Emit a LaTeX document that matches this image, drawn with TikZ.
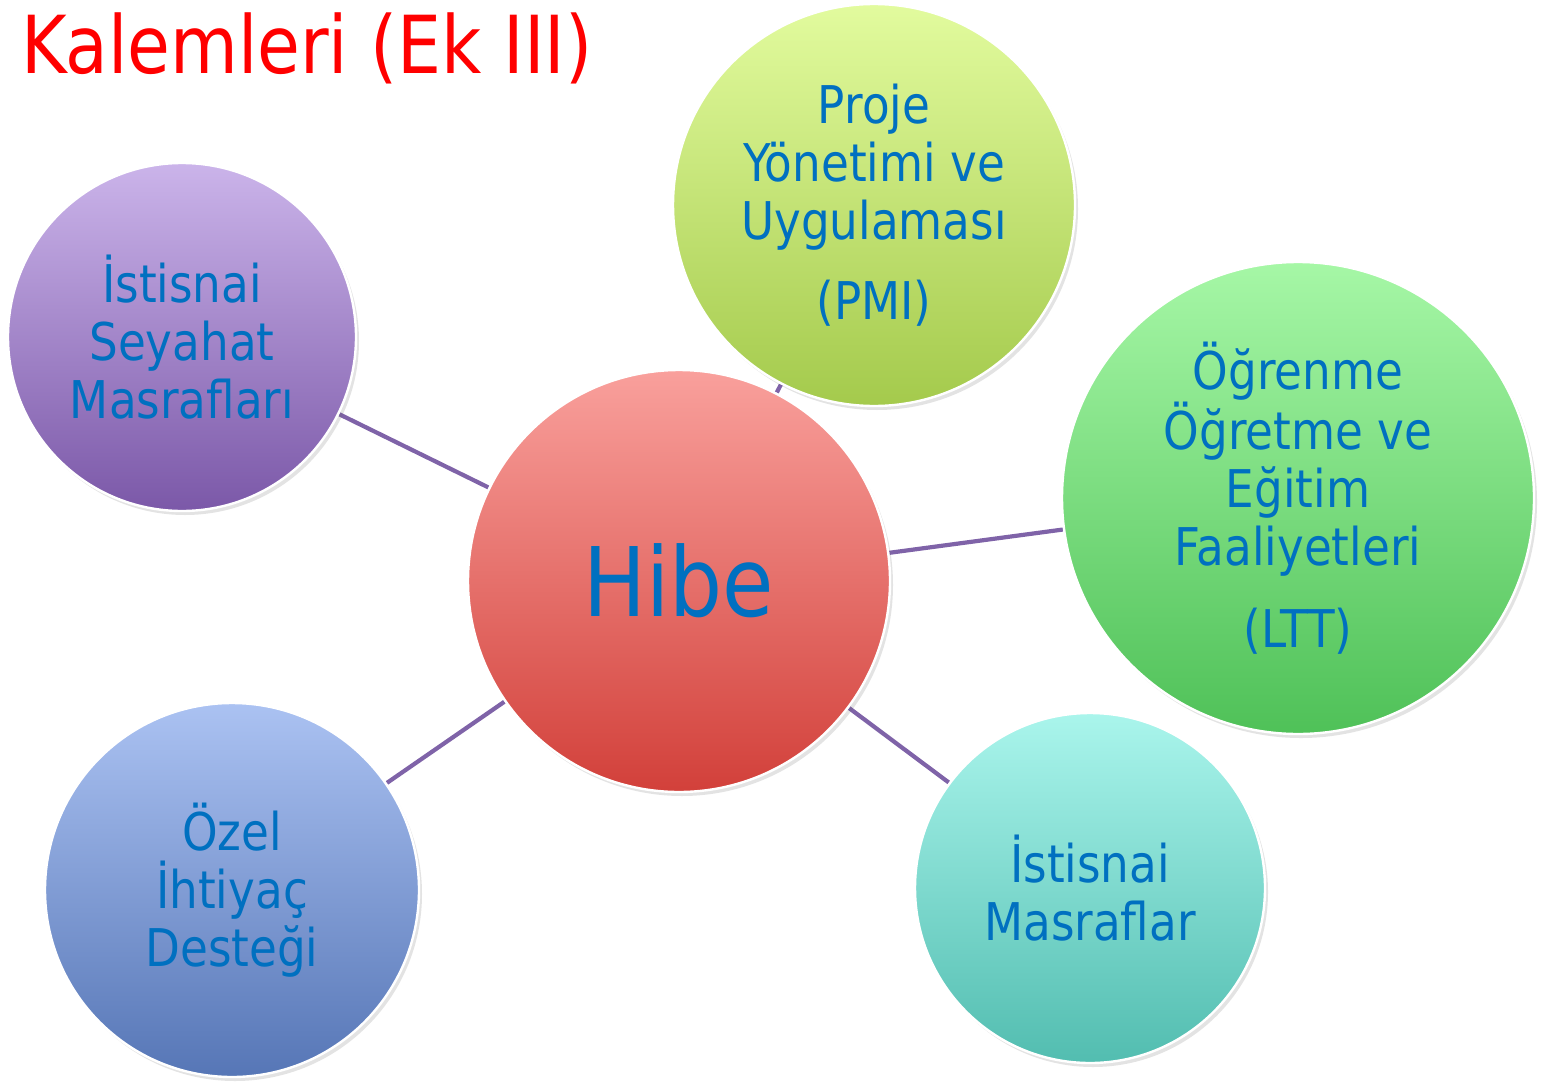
\documentclass[tikz,border=0pt]{standalone}
\usepackage{fontspec}
\setmainfont{DejaVu Sans}[FakeStretch=0.87]
\usetikzlibrary{shadows, backgrounds}
\definecolor{TxtBlue}{RGB}{0, 112, 192}
\definecolor{LinkPurple}{RGB}{127, 99, 168}
\definecolor{HibeTop}{RGB}{249, 160, 156}
\definecolor{HibeBot}{RGB}{210, 64, 58}
\definecolor{PmiTop}{RGB}{226, 251, 158}
\definecolor{PmiBot}{RGB}{164, 202, 76}
\definecolor{SeyTop}{RGB}{203, 180, 234}
\definecolor{SeyBot}{RGB}{123, 88, 168}
\definecolor{LttTop}{RGB}{166, 247, 166}
\definecolor{LttBot}{RGB}{79, 193, 88}
\definecolor{MasTop}{RGB}{170, 245, 236}
\definecolor{MasBot}{RGB}{82, 189, 176}
\definecolor{OzelTop}{RGB}{171, 194, 242}
\definecolor{OzelBot}{RGB}{86, 118, 182}

\begin{document}
\begin{tikzpicture}[
      x=0.5pt, y=-0.5pt,
      bubble/.style={circle, inner sep=0pt, align=center, text=TxtBlue,
        font=\fontsize{26}{29}\selectfont, draw=white, line width=1.2pt,
        drop shadow={shadow xshift=1.5pt, shadow yshift=-2pt, opacity=0.18, fill=black!60}},
      link/.style={draw=LinkPurple, line width=2.1pt}
    ]
      \useasboundingbox (0,0) rectangle (1545,1081);
      \node[anchor=base west, text=red, font=\fontsize{40}{44}\selectfont] (title) at (14,74) {Kalemleri (Ek III)};
      % centre and the five budget items
      \node[bubble, minimum size=211pt, top color=HibeTop, bottom color=HibeBot,
            font=\fontsize{48}{52}\selectfont] (hibe) at (679,581) {Hibe};
      \node[bubble, minimum size=201pt, top color=PmiTop, bottom color=PmiBot] (pmi) at (874,205)
        {Proje\\Yönetimi ve\\Uygulaması\\[11pt](PMI)};
      \node[bubble, minimum size=174pt, top color=SeyTop, bottom color=SeyBot] (seyahat) at (182,337)
        {İstisnai\\Seyahat\\Masrafları};
      \node[bubble, minimum size=236pt, top color=LttTop, bottom color=LttBot] (ltt) at (1298,498)
        {Öğrenme\\Öğretme ve\\Eğitim\\Faaliyetleri\\[12pt](LTT)};
      \node[bubble, minimum size=175pt, top color=MasTop, bottom color=MasBot] (masraf) at (1090,888)
        {İstisnai\\Masraflar};
      \node[bubble, minimum size=187pt, top color=OzelTop, bottom color=OzelBot] (ozel) at (232,890)
        {Özel\\İhtiyaç\\Desteği};
      \begin{scope}[on background layer]
        \foreach \n in {pmi, seyahat, ltt, masraf, ozel}
          \draw[link] (hibe) -- (\n);
      \end{scope}
    \end{tikzpicture}
\end{document}
